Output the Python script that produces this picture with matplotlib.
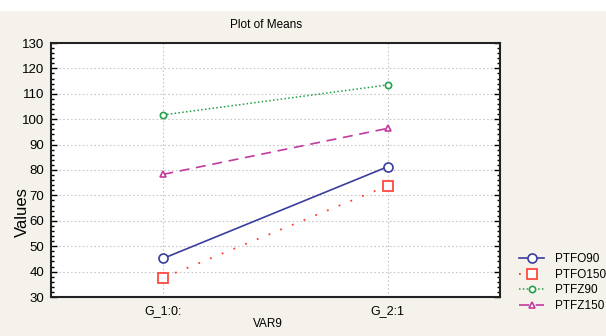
import matplotlib.pyplot as plt
import matplotlib.patches as mpatches
from matplotlib.ticker import MultipleLocator

plt.rcParams['font.family'] = ['Liberation Sans', 'DejaVu Sans']

# data
groups = ['G_1:0:', 'G_2:1']
ptfo90 = [45.2, 81.3]
ptfo150 = [37.6, 73.8]
ptfz90 = [101.7, 113.5]
ptfz150 = [78.3, 96.4]
series_names = ['PTFO90', 'PTFO150', 'PTFZ90', 'PTFZ150']

bg = '#f5f2eb'
fig = plt.figure(figsize=(6.06, 3.36), dpi=100, facecolor=bg)
# white strip at the top
fig.patches.append(mpatches.Rectangle((0, 1 - 10 / 336), 1, 10 / 336,
                                      transform=fig.transFigure,
                                      color='white', zorder=0))

ax = fig.add_axes([51 / 606, 1 - 297 / 336, 449 / 606, 254 / 336])
x = range(len(groups))

ax.plot(x, ptfo90, color='#3a3d9e', ls='-', lw=1.2, marker='o', ms=6.5,
        mfc='white', mec='#3a3d9e', mew=1.2, label=series_names[0])
ax.plot(x, ptfo150, color='#ff3b30', ls=(0, (1, 6)), lw=1.3, marker='s', ms=6.5,
        mfc='white', mec='#ff3b30', mew=1.2, label=series_names[1])
ax.plot(x, ptfz90, color='#23a04a', ls=(0, (1, 1.5)), lw=1.1, marker='o', ms=4.5,
        mfc='white', mec='#23a04a', mew=1.2, label=series_names[2])
ax.plot(x, ptfz150, color='#c23a9e', ls=(0, (6, 4)), lw=1.2, marker='^', ms=5,
        mfc='white', mec='#c23a9e', mew=1.2, label=series_names[3])

ax.set_xlim(-0.5, 1.5)
ax.set_ylim(30, 130)
ax.set_xticks(list(x))
ax.set_xticklabels(groups)
ax.yaxis.set_major_locator(MultipleLocator(10))
ax.yaxis.set_minor_locator(MultipleLocator(2))
ax.tick_params(axis='y', which='both', direction='in', left=True, right=True,
               labelsize=9.5, width=1)
ax.tick_params(axis='y', which='major', length=4, pad=5)
ax.tick_params(axis='y', which='minor', length=2)
ax.tick_params(axis='x', length=0, labelsize=9, pad=6)
ax.grid(True, color='#c8c8c8', ls=(0, (1.5, 2)), lw=0.8)
for s in ax.spines.values():
    s.set_linewidth(1.5)
    s.set_color('#222222')

fig.text(266 / 606, 1 - 25 / 336, 'Plot of Means', ha='center', va='center', fontsize=8.5)
fig.text(268 / 606, 1 - 324 / 336, 'VAR9', ha='center', va='center', fontsize=8.5)
fig.text(22 / 606, 1 - 212 / 336, 'Values', ha='center', va='center',
         rotation=90, fontsize=12)

leg = fig.legend(loc='upper left', bbox_to_anchor=(517 / 606, 1 - 251 / 336),
                 frameon=False, fontsize=8.5, handlelength=2.1, handletextpad=0.9,
                 labelspacing=0.3, borderpad=0.2, borderaxespad=0)

fig.savefig('out.png', dpi=100, facecolor=bg)
